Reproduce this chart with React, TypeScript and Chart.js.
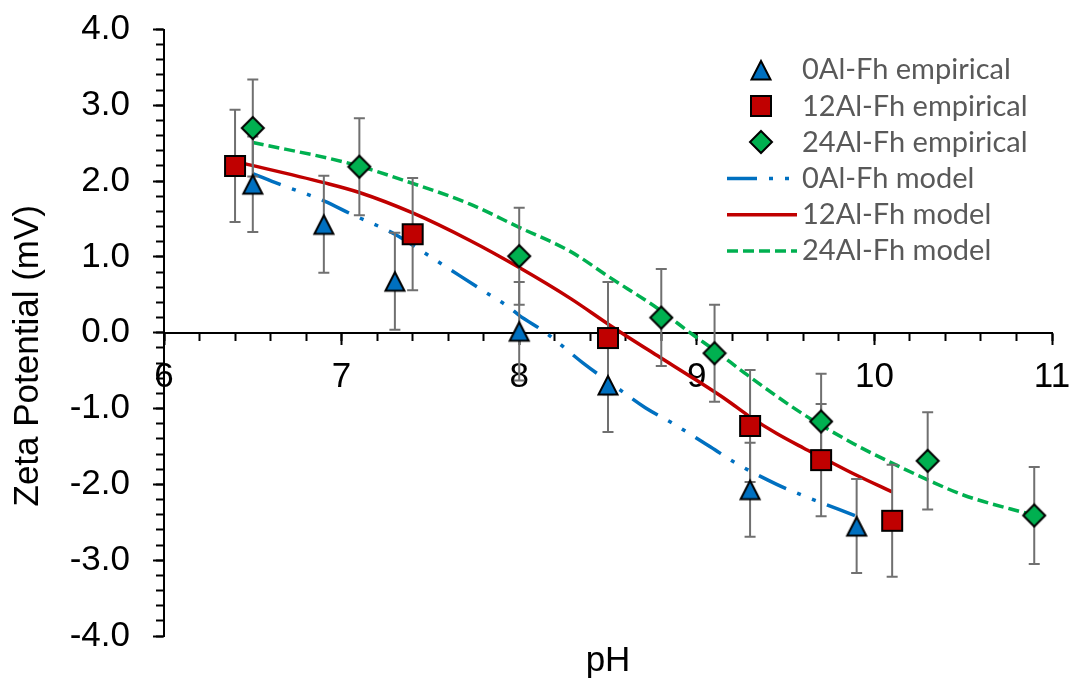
import React, { useEffect, useRef } from 'react';
import { Chart, registerables } from 'chart.js';

Chart.register(...registerables);

// ---- Data ----
const pH0 = [6.5, 6.9, 7.3, 8.0, 8.5, 9.3, 9.9];
const zeta0 = [1.96, 1.43, 0.68, 0.02, -0.69, -2.07, -2.55];
const err0 = [0.63, 0.64, 0.64, 0.65, 0.62, 0.62, 0.62];

const pH12 = [6.4, 7.4, 8.5, 9.3, 9.7, 10.1];
const zeta12 = [2.2, 1.3, -0.07, -1.23, -1.68, -2.48];
const err12 = [0.74, 0.74, 0.74, 0.74, 0.74, 0.74];

const pH24 = [6.5, 7.1, 8.0, 8.8, 9.1, 9.7, 10.3, 10.9];
const zeta24 = [2.7, 2.19, 1.01, 0.2, -0.27, -1.17, -1.69, -2.41];
const err24 = [0.64, 0.64, 0.64, 0.64, 0.64, 0.63, 0.64, 0.64];

const model0X = [6.5, 6.65, 6.9, 7.05, 7.3, 7.43, 7.66, 7.8, 7.94, 8.0, 8.15, 8.36, 8.56, 8.71, 8.86, 9.08, 9.22, 9.45, 9.6, 9.9];
const model0Y = [2.1, 1.96, 1.74, 1.57, 1.3, 1.11, 0.76, 0.55, 0.34, 0.23, 0.0, -0.4, -0.74, -0.99, -1.19, -1.51, -1.72, -2.0, -2.15, -2.42];

const model12X = [6.4, 6.9, 7.1, 7.4, 7.72, 8.0, 8.29, 8.51, 8.79, 8.98, 9.17, 9.3, 9.45, 9.6, 9.7, 9.9, 10.1];
const model12Y = [2.26, 1.98, 1.85, 1.58, 1.22, 0.86, 0.45, 0.1, -0.32, -0.6, -0.89, -1.11, -1.33, -1.52, -1.64, -1.88, -2.1];

const model24X = [6.5, 7.05, 7.4, 7.72, 8.0, 8.29, 8.51, 8.78, 8.98, 9.1, 9.28, 9.59, 9.88, 10.1, 10.3, 10.5, 10.9];
const model24Y = [2.51, 2.23, 1.97, 1.7, 1.39, 1.07, 0.73, 0.32, -0.03, -0.23, -0.55, -1.06, -1.46, -1.72, -1.94, -2.14, -2.41];

const seriesLabels = [
  '0Al-Fh empirical',
  '12Al-Fh empirical',
  '24Al-Fh empirical',
  '0Al-Fh model',
  '12Al-Fh model',
  '24Al-Fh model',
];

const xTitle = 'pH';
const yTitle = 'Zeta Potential (mV)';

// ---- Styles ----
const BLUE = '#0070C0';
const RED = '#C00000';
const GREEN = '#00B050';
const ERR = '#707070';
const TXT_FONT = 'Liberation Sans, Arial, sans-serif';
const DASH_DOT_DOT = [30, 12, 4, 12, 4, 12];
const DASH = [11, 5];

function makeMarker(shape: string, fill: string): HTMLCanvasElement {
  const S = shape === 'diamond' ? 26 : 24;
  const c = document.createElement('canvas');
  c.width = S;
  c.height = S;
  const ctx = c.getContext('2d')!;
  ctx.beginPath();
  if (shape === 'triangle') {
    ctx.moveTo(S / 2, 3);
    ctx.lineTo(S - 2.5, S - 2.5);
    ctx.lineTo(2.5, S - 2.5);
  } else if (shape === 'square') {
    ctx.rect(2, 2, S - 4, S - 4);
  } else {
    ctx.moveTo(S / 2, 2);
    ctx.lineTo(S - 2, S / 2);
    ctx.lineTo(S / 2, S - 2);
    ctx.lineTo(2, S / 2);
  }
  ctx.closePath();
  ctx.fillStyle = fill;
  ctx.fill();
  ctx.lineWidth = 2;
  ctx.lineJoin = 'miter';
  ctx.strokeStyle = '#000';
  ctx.stroke();
  return c;
}

const toPoints = (xs: number[], ys: number[]) => xs.map((x, i) => ({ x, y: ys[i] }));

export default function App() {
  const ref = useRef<HTMLCanvasElement | null>(null);

  useEffect(() => {
    if (!ref.current) return;
    const tri = makeMarker('triangle', BLUE);
    const sq = makeMarker('square', RED);
    const dia = makeMarker('diamond', GREEN);
    const markers = [tri, sq, dia];
    const errSets = [
      { xs: pH0, ys: zeta0, es: err0 },
      { xs: pH12, ys: zeta12, es: err12 },
      { xs: pH24, ys: zeta24, es: err24 },
    ];

    const errorBars = {
      id: 'errorBars',
      beforeDatasetDraw(chart: any, args: any) {
        if (args.index !== 0) return;
        const ctx = chart.ctx;
        const xs = chart.scales.x;
        const ys = chart.scales.y;
        ctx.save();
        ctx.strokeStyle = ERR;
        ctx.lineWidth = 2;
        ctx.setLineDash([]);
        errSets.forEach((s) => {
          s.xs.forEach((xv, i) => {
            const px = xs.getPixelForValue(xv);
            const top = ys.getPixelForValue(s.ys[i] + s.es[i]);
            const bot = ys.getPixelForValue(s.ys[i] - s.es[i]);
            ctx.beginPath();
            ctx.moveTo(px, top);
            ctx.lineTo(px, bot);
            ctx.moveTo(px - 5.5, top);
            ctx.lineTo(px + 5.5, top);
            ctx.moveTo(px - 5.5, bot);
            ctx.lineTo(px + 5.5, bot);
            ctx.stroke();
          });
        });
        ctx.restore();
      },
    };

    const yAxisTitle = {
      id: 'yAxisTitle',
      afterDraw(chart: any) {
        const ctx = chart.ctx;
        const area = chart.chartArea;
        ctx.save();
        ctx.translate(28, (area.top + area.bottom) / 2 + 23);
        ctx.rotate(-Math.PI / 2);
        ctx.font = '35px ' + TXT_FONT;
        ctx.fillStyle = '#000';
        ctx.textAlign = 'center';
        ctx.textBaseline = 'middle';
        ctx.fillText(yTitle, 0, 0);
        ctx.restore();
      },
    };

    const legend = {
      id: 'customLegend',
      afterDraw(chart: any) {
        const ctx = chart.ctx;
        ctx.save();
        ctx.font = '29px Lato, sans-serif';
        ctx.fillStyle = '#595959';
        ctx.textBaseline = 'middle';
        ctx.textAlign = 'left';
        const lineStyles = [
          { color: BLUE, dash: DASH_DOT_DOT },
          { color: RED, dash: [] as number[] },
          { color: GREEN, dash: DASH },
        ];
        seriesLabels.forEach((label, i) => {
          const cy = 70 + i * 36.2;
          if (i < 3) {
            const m = markers[i];
            ctx.drawImage(m, Math.round(761 - m.width / 2), Math.round(cy - m.height / 2));
          } else {
            const st = lineStyles[i - 3];
            ctx.save();
            ctx.strokeStyle = st.color;
            ctx.lineWidth = 3.5;
            ctx.setLineDash(st.dash);
            ctx.beginPath();
            ctx.moveTo(727, cy);
            ctx.lineTo(797, cy);
            ctx.stroke();
            ctx.restore();
          }
          ctx.fillText(label, 802, cy);
        });
        ctx.restore();
      },
    };

    const tickFont = { family: TXT_FONT, size: 35 };

    const chart = new Chart(ref.current, {
      type: 'scatter',
      data: {
        datasets: [
          {
            label: seriesLabels[0],
            data: toPoints(pH0, zeta0),
            pointStyle: tri as any,
            pointRadius: 12,
            order: 2,
          },
          {
            label: seriesLabels[1],
            data: toPoints(pH12, zeta12),
            pointStyle: sq as any,
            pointRadius: 12,
            order: 1,
          },
          {
            label: seriesLabels[2],
            data: toPoints(pH24, zeta24),
            pointStyle: dia as any,
            pointRadius: 12,
            order: 0,
          },
          {
            label: seriesLabels[3],
            data: toPoints(model0X, model0Y),
            showLine: true,
            pointRadius: 0,
            borderColor: BLUE,
            borderWidth: 3.5,
            borderDash: DASH_DOT_DOT,
            cubicInterpolationMode: 'monotone',
            order: 3,
          },
          {
            label: seriesLabels[4],
            data: toPoints(model12X, model12Y),
            showLine: true,
            pointRadius: 0,
            borderColor: RED,
            borderWidth: 3.5,
            cubicInterpolationMode: 'monotone',
            order: 3,
          },
          {
            label: seriesLabels[5],
            data: toPoints(model24X, model24Y),
            showLine: true,
            pointRadius: 0,
            borderColor: GREEN,
            borderWidth: 3.5,
            borderDash: DASH,
            cubicInterpolationMode: 'monotone',
            order: 3,
          },
        ] as any,
      },
      options: {
        animation: false,
        responsive: false,
        devicePixelRatio: 1,
        layout: { padding: { top: 29.5, right: 18, left: 0, bottom: 0 } },
        plugins: { legend: { display: false }, tooltip: { enabled: false } },
        scales: {
          x: {
            type: 'linear',
            position: { y: 0 } as any,
            min: 6,
            max: 11,
            ticks: {
              stepSize: 1,
              autoSkip: false,
              font: tickFont,
              color: '#000',
              padding: 13,
              maxRotation: 0,
              callback: (v: any) => String(v),
            },
            grid: { drawOnChartArea: false, drawTicks: true, tickLength: 11, tickWidth: 2, tickColor: '#000' },
            border: { display: true, color: '#000', width: 2 },
            afterFit: (s: any) => {
              s.paddingLeft = 0;
              s.paddingRight = 0;
            },
          },
          xMinor: {
            type: 'linear',
            position: { y: 0 } as any,
            min: 6,
            max: 11,
            ticks: { stepSize: 0.2, display: false, autoSkip: false },
            grid: { drawOnChartArea: false, drawTicks: true, tickLength: 8, tickWidth: 2, tickColor: '#000' },
            border: { display: false },
          },
          xTitle: {
            type: 'linear',
            position: 'bottom',
            min: 6,
            max: 11,
            ticks: { display: false },
            grid: { display: false },
            border: { display: false },
            title: { display: true, text: xTitle, font: tickFont, color: '#000', padding: { top: 0, bottom: 0 } },
            afterFit: (s: any) => {
              s.height = 46;
            },
          },
          y: {
            type: 'linear',
            position: 'left',
            min: -4,
            max: 4,
            ticks: {
              stepSize: 1,
              font: tickFont,
              color: '#000',
              padding: 23,
              callback: (v: any) => Number(v).toFixed(1),
            },
            grid: { drawOnChartArea: false, drawTicks: true, tickLength: 11, tickWidth: 2, tickColor: '#000' },
            border: { display: true, color: '#000', width: 2 },
            title: { display: false, text: yTitle },
            afterFit: (s: any) => {
              s.width = 164;
              s.paddingTop = 0;
              s.paddingBottom = 0;
            },
          },
          yMinor: {
            type: 'linear',
            position: { x: 6 } as any,
            min: -4,
            max: 4,
            ticks: { stepSize: 0.2, display: false },
            grid: { drawOnChartArea: false, drawTicks: true, tickLength: 8, tickWidth: 2, tickColor: '#000' },
            border: { display: false },
            afterFit: (s: any) => {
              s.paddingTop = 0;
              s.paddingBottom = 0;
            },
          },
        } as any,
      },
      plugins: [errorBars, yAxisTitle, legend],
    });

    return () => chart.destroy();
  }, []);

  return (
    <div style={{ position: 'absolute', left: 0, top: 0, width: 1070, height: 682, background: '#fff' }}>
      <canvas ref={ref} width={1070} height={682} style={{ display: 'block' }} />
    </div>
  );
}
